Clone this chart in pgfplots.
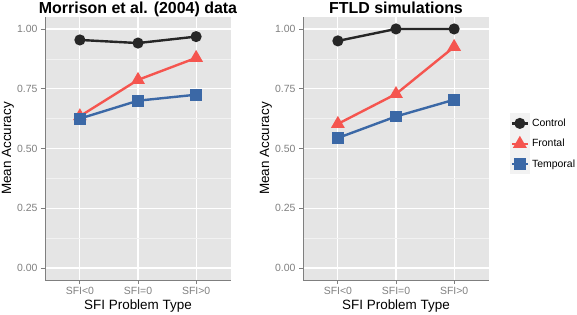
\documentclass[border=0pt]{standalone}
\usepackage{fontspec}
\setmainfont{Liberation Sans}
\usepackage{pgfplots}
\pgfplotsset{compat=1.18}
\definecolor{ctrl}{HTML}{262626}
\definecolor{front}{HTML}{F5554F}
\definecolor{temp}{HTML}{3B68A6}
\definecolor{panelbg}{HTML}{E5E5E5}
\definecolor{minorgrid}{HTML}{F2F2F2}
\definecolor{tickgrey}{HTML}{7F7F7F}
\definecolor{keybg}{HTML}{F2F2F2}
\pgfplotsset{
 ggstyle/.style={
  scale only axis, width=186bp, height=263bp,
  anchor=south west,
  xmin=0.4,xmax=3.6,ymin=-0.05,ymax=1.05,
  xtick={1,2,3}, xticklabels={SFI<0,SFI=0,SFI>0},
  ytick={0,0.25,0.5,0.75,1}, yticklabels={0.00,0.25,0.50,0.75,1.00},
  minor ytick={0.125,0.375,0.625,0.875},
  axis background/.style={fill=panelbg},
  grid=both,
  major grid style={white, line width=1.1bp},
  minor grid style={minorgrid, line width=0.5bp},
  axis x line*=bottom, axis y line*=left,
  axis line style={tickgrey, line width=0.8bp, -},
  tick style={tickgrey, line width=0.8bp},
  tick align=outside, major tick length=4bp, minor tick length=0bp,
  xticklabel style={font=\fontsize{10.5}{12}\selectfont, text=tickgrey},
  yticklabel style={font=\fontsize{10.5}{12}\selectfont, text=tickgrey},
  xlabel={SFI Problem Type}, ylabel={Mean Accuracy},
  every axis x label/.style={at={(axis description cs:0.5,-0.1)}, anchor=center, font=\fontsize{13.5}{15}\selectfont},
  every axis y label/.style={at={(axis description cs:-0.2,0.5)}, rotate=90, anchor=center, font=\fontsize{13.5}{15}\selectfont},
  every axis title/.style={font=\bfseries\fontsize{16}{18}\selectfont, at={(axis description cs:0.5,1)}, anchor=base, inner sep=0pt, yshift=3.5bp},
  every axis plot/.append style={line width=2.4bp},
  ctrlstyle/.style={ctrl, mark=*, mark size=4.3bp, mark options={solid}},
  frontstyle/.style={front, mark=triangle*, mark size=5.6bp, mark options={solid}},
  tempstyle/.style={temp, mark=square*, mark size=4.7bp, mark options={solid}},
 }
}
\begin{document}
\begin{tikzpicture}
\path[use as bounding box] (0bp,0bp) rectangle (577bp,315bp);
\begin{axis}[ggstyle, at={(45bp,35bp)}, title={Morrison et al. (2004) data}]
\addplot[ctrlstyle] coordinates {(1,0.954) (2,0.941) (3,0.968)};
\addplot[frontstyle] coordinates {(1,0.635) (2,0.787) (3,0.879)};
\addplot[tempstyle] coordinates {(1,0.625) (2,0.700) (3,0.725)};
\end{axis}
\begin{axis}[ggstyle, at={(303bp,35bp)}, title={FTLD simulations},
  legend style={at={(axis description cs:1.11,0.635)}, anchor=north west,
    draw=none, fill=none, font=\fontsize{10.5}{12}\selectfont,
    row sep=0bp, inner sep=0pt, cells={anchor=west}},
  legend image code/.code={
    \fill[keybg] (0bp,-9bp) rectangle (18bp,9bp);
    \draw[mark repeat=2,mark phase=2] plot coordinates {(1bp,0bp) (9bp,0bp) (17bp,0bp)};
  }]
\addplot[ctrlstyle] coordinates {(1,0.950) (2,1.000) (3,1.000)};
\addlegendentry{Control}
\addplot[frontstyle] coordinates {(1,0.603) (2,0.728) (3,0.925)};
\addlegendentry{Frontal}
\addplot[tempstyle] coordinates {(1,0.544) (2,0.634) (3,0.704)};
\addlegendentry{Temporal}
\node[anchor=west, inner sep=0pt, font=\bfseries\fontsize{10.5}{12}\selectfont] at (axis description cs:1.108,0.669) {Lesion Type};
\end{axis}
\end{tikzpicture}
\end{document}
